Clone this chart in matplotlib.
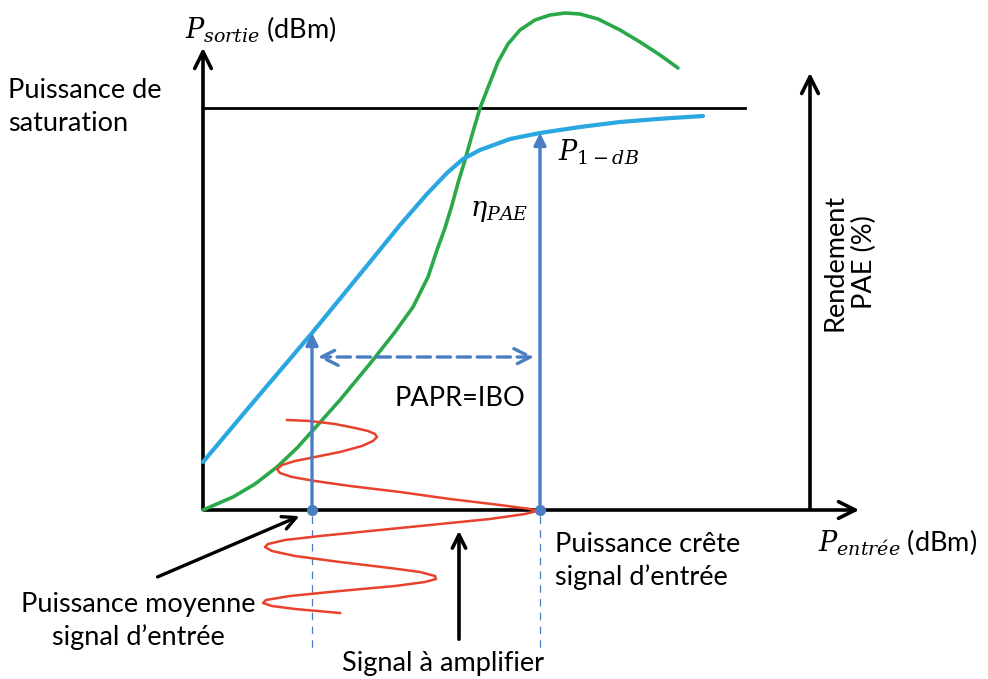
import matplotlib
matplotlib.use("Agg")
import matplotlib.pyplot as plt

plt.rcParams['font.family'] = ['Lato', 'DejaVu Sans']
plt.rcParams['mathtext.fontset'] = 'dejavuserif'

# schematic coordinates (pixels, y downward)
origin = (203, 510)
x_axis_end = 862
y_axis_top = 45
pae_axis_x = 810
pae_axis_top = 70
sat_level = 108
sat_end = 745

# P_sortie curve (blue)
pout_x = [203, 250, 312, 370, 400, 427, 447, 463, 480, 510, 540, 580, 620, 657, 703]
pout_y = [462, 406, 333, 262, 225, 194, 173, 159, 150, 139, 133, 127, 122, 119, 116]

# PAE curve (green)
pae_x = [203, 233, 255, 277, 297, 315, 340, 373, 395, 413, 428, 437, 445, 452, 458, 465, 472,
         480, 489, 498, 508, 520, 535, 550, 565, 580, 598, 620, 640, 660, 678]
pae_y = [510, 497, 484, 467, 448, 428, 400, 360, 332, 307, 277, 250, 228, 205, 183, 160, 135,
         108, 85, 62, 44, 30, 20, 15, 13, 14, 19, 30, 42, 55, 68]

# input signal envelope (red)
sig_x = [287, 310, 335, 355, 368, 375, 377, 373, 362, 340, 315, 295, 282, 277, 280, 292, 315, 350,
         400, 450, 500, 530, 537, 525, 490, 440, 380, 320, 285, 268, 265, 272, 295, 340, 390, 420,
         435, 436, 425, 395, 340, 290, 266, 263, 272, 295, 340]
sig_y = [420, 421, 424, 428, 431, 434, 437, 441, 446, 452, 457, 461, 465, 469, 473, 477, 481, 486,
         492, 499, 505, 509, 511, 514, 519, 524, 530, 536, 540, 544, 547, 551, 556, 562, 568, 572,
         576, 579, 582, 586, 591, 596, 600, 603, 606, 609, 613]

p_mean = 312
p_peak = 540
p_mean_out = 330
p_peak_out = 130
papr_y = 357

fig = plt.figure(figsize=(9.88, 6.79), dpi=100)
ax = fig.add_axes([0, 0, 1, 1])
ax.set_xlim(0, 988)
ax.set_ylim(679, 0)
ax.axis('off')

blue = '#2AA7E1'
green = '#2BA84A'
red = '#E8412C'
steel = '#4A7EC2'

# axes
ax.annotate('', xy=(origin[0], y_axis_top), xytext=(origin[0], origin[1] + 2),
            arrowprops=dict(arrowstyle='->', lw=2.6, color='black', mutation_scale=30))
ax.annotate('', xy=(x_axis_end, origin[1]), xytext=(origin[0] - 2, origin[1]),
            arrowprops=dict(arrowstyle='->', lw=2.6, color='black', mutation_scale=30))
ax.annotate('', xy=(pae_axis_x, pae_axis_top), xytext=(pae_axis_x, origin[1] + 2),
            arrowprops=dict(arrowstyle='->', lw=2.6, color='black', mutation_scale=30))
ax.plot([origin[0], sat_end], [sat_level, sat_level], color='black', lw=2.0)

# curves
ax.plot(pae_x, pae_y, color=green, lw=2.6, solid_capstyle='round', solid_joinstyle='round', zorder=3)
ax.plot(pout_x, pout_y, color=blue, lw=3.0, solid_capstyle='round', solid_joinstyle='round', zorder=4)
ax.plot(sig_x, sig_y, color=red, lw=1.8, solid_joinstyle='round', zorder=3)

# mean / peak input markers
for px, py in [(p_mean, p_mean_out), (p_peak, p_peak_out)]:
    ax.annotate('', xy=(px, py), xytext=(px, origin[1]),
                arrowprops=dict(arrowstyle='-|>', lw=2.4, color=steel, mutation_scale=18), zorder=5)
    ax.plot([px, px], [origin[1] + 6, 648], color=steel, lw=0.9, ls=(0, (6, 5)))
ax.plot([p_mean, p_peak], [origin[1], origin[1]], 'o', color=steel, ms=7, zorder=6)
ax.annotate('', xy=(p_mean + 3, papr_y), xytext=(p_peak - 3, papr_y),
            arrowprops=dict(arrowstyle='<->', lw=2.4, color=steel, ls=(0, (4, 2)), mutation_scale=30))

# pointer arrows
ax.annotate('', xy=(302, 515), xytext=(155, 578),
            arrowprops=dict(arrowstyle='->', lw=2.4, color='black', mutation_scale=24))
ax.annotate('', xy=(459, 528), xytext=(459, 642),
            arrowprops=dict(arrowstyle='->', lw=2.6, color='black', mutation_scale=24))

# labels
fs = 19.5
ax.text(185, 30, r'$P_{sortie}$ (dBm)', fontsize=fs, va='center', ha='left')
ax.text(8, 107, 'Puissance de\nsaturation', fontsize=fs, va='center', ha='left', linespacing=1.4)
ax.text(470, 212, r'$\eta_{PAE}$', fontsize=fs, va='center', ha='left')
ax.text(558, 152, r'$P_{1-dB}$', fontsize=fs, va='center', ha='left')
ax.text(850, 262, 'Rendement\nPAE (%)', fontsize=fs, va='center', ha='center',
        rotation=90, linespacing=1.2)
ax.text(460, 398, 'PAPR=IBO', fontsize=fs, va='center', ha='center')
ax.text(818, 543, r'$P_{entrée}$ (dBm)', fontsize=fs, va='center', ha='left')
ax.text(555, 561, 'Puissance crête\nsignal d\u2019entrée', fontsize=fs, va='center', ha='left',
        linespacing=1.35)
ax.text(138, 621, 'Puissance moyenne\nsignal d\u2019entrée', fontsize=fs, va='center', ha='center',
        linespacing=1.35)
ax.text(443, 664, 'Signal à amplifier', fontsize=fs, va='center', ha='center')

fig.savefig('out.png', dpi=100)
